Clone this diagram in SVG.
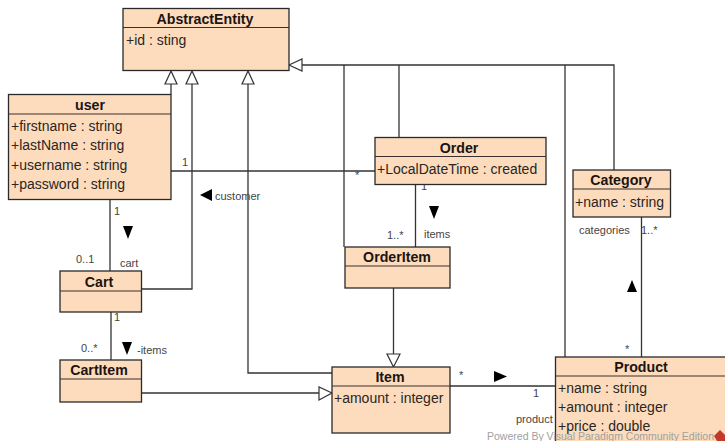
<svg xmlns="http://www.w3.org/2000/svg" width="725" height="441" viewBox="0 0 725 441">
<defs>
<style>
text{font-family:"Liberation Sans",Arial,sans-serif;fill:#222}
.box{fill:#fddcbd;stroke:#2a2a2a;stroke-width:1.3}
.div{stroke:#3a3030;stroke-width:1.1;fill:none}
.t{font-size:14.2px;font-weight:bold;text-anchor:middle;fill:#1c1410}
.a{font-size:14px;fill:#2a2624}
.l{font-size:11px;fill:#444}
.c{fill:none;stroke:#333;stroke-width:1.3}
.g{fill:#fff;stroke:#333;stroke-width:1.2}
.d{fill:#000;stroke:none}
.w{font-size:11px;fill:#a0a0a0}
</style>
</defs>
<rect width="725" height="441" fill="#fff"/>
<g id="connectors">
<path class="c" d="M171 84V94"/>
<path class="c" d="M192 84V289H142"/>
<path class="c" d="M248 84V373H332"/>
<path class="c" d="M302 65H614V170"/>
<path class="c" d="M344 65V247"/>
<path class="c" d="M399 65V137"/>
<path class="c" d="M565 65V357"/>
<path class="c" d="M171 171H375"/>
<path class="c" d="M110 199V271"/>
<path class="c" d="M111 312V360"/>
<path class="c" d="M142 393H319"/>
<path class="c" d="M415.500 184V247"/>
<path class="c" d="M393.500 288V354"/>
<path class="c" d="M450 386H555"/>
<path class="c" d="M641.500 217V357"/>
<path class="g" d="M171 71L165 84H177Z"/>
<path class="g" d="M192 71L186 84H198Z"/>
<path class="g" d="M248 71L242 84H254Z"/>
<path class="g" d="M289 65L302 59V71Z"/>
<path class="g" d="M332 393L319 387V400Z"/>
<path class="g" d="M393.500 367L387 354H400Z"/>
<path class="d" d="M200 195L212 189V201Z"/>
<path class="d" d="M123 226H133L128 239Z"/>
<path class="d" d="M122 342H132L127 355Z"/>
<path class="d" d="M429 206H439L434 219Z"/>
<path class="d" d="M494 371L507 376.500L494 382Z"/>
<path class="d" d="M632 280L637 292H627Z"/>
<text class="l" x="182" y="166">1</text>
<text class="l" x="355" y="179">*</text>
<text class="l" x="215" y="200">customer</text>
<text class="l" x="114" y="215">1</text>
<text class="l" x="76" y="263">0..1</text>
<text class="l" x="120" y="267">cart</text>
<text class="l" x="114" y="321">1</text>
<text class="l" x="81" y="352">0..*</text>
<text class="l" x="137" y="354">-items</text>
<text class="l" x="421" y="190">1</text>
<text class="l" x="387" y="239">1..*</text>
<text class="l" x="424" y="238">items</text>
<text class="l" x="579" y="234">categories</text>
<text class="l" x="641" y="234">1..*</text>
<text class="l" x="625" y="353">*</text>
<text class="l" x="459" y="379">*</text>
<text class="l" x="533" y="397">1</text>
<text class="l" x="516" y="423">product</text>
</g>
<g id="AbstractEntity">
<rect class="box" x="123" y="8.500" width="166" height="62"/>
<path class="div" d="M123 27.500H289"/>
<text class="t" x="205" y="24">AbstractEntity</text>
<text class="a" x="126" y="45">+id : sting</text>
</g>
<g id="user">
<rect class="box" x="8.500" y="94.500" width="162.500" height="105"/>
<path class="div" d="M8.500 114H171"/>
<text class="t" x="90" y="110">user</text>
<text class="a" x="11" y="131">+firstname : string</text>
<text class="a" x="11" y="150">+lastName : string</text>
<text class="a" x="11" y="170">+username : string</text>
<text class="a" x="11" y="189">+password : string</text>
</g>
<g id="Order">
<rect class="box" x="375" y="137.500" width="171" height="47"/>
<path class="div" d="M375 156.500H546"/>
<text class="t" x="459" y="153">Order</text>
<text class="a" x="377" y="174">+LocalDateTime : created</text>
</g>
<g id="Category">
<rect class="box" x="573" y="170" width="97.500" height="47"/>
<path class="div" d="M573 189H670.500"/>
<text class="t" x="621" y="185">Category</text>
<text class="a" x="575" y="207">+name : string</text>
</g>
<g id="OrderItem">
<rect class="box" x="345" y="247" width="105" height="41"/>
<path class="div" d="M345 266H450"/>
<text class="t" x="397" y="262">OrderItem</text>
</g>
<g id="Cart">
<rect class="box" x="60" y="271" width="81.500" height="41"/>
<path class="div" d="M60 291H141.500"/>
<text class="t" x="99" y="287">Cart</text>
</g>
<g id="CartItem">
<rect class="box" x="60" y="360" width="81.500" height="42"/>
<path class="div" d="M60 379H141.500"/>
<text class="t" x="99" y="375">CartItem</text>
</g>
<g id="Item">
<rect class="box" x="332" y="367" width="118" height="66"/>
<path class="div" d="M332 386H450"/>
<text class="t" x="390" y="382">Item</text>
<text class="a" x="334" y="403">+amount : integer</text>
</g>
<g id="Product">
<rect class="box" x="555.500" y="357" width="172" height="90"/>
<path class="div" d="M555.500 376H727"/>
<text class="t" x="641" y="372">Product</text>
<text class="a" x="558" y="393">+name : string</text>
<text class="a" x="558" y="412">+amount : integer</text>
<text class="a" x="558" y="431">+price : double</text>
</g>
<text class="w" x="487" y="440" textLength="227" lengthAdjust="spacingAndGlyphs">Powered By Visual Paradigm Community Edition</text>
<path d="M720 430L725 435V441H717L714 436Z" fill="#c0392b"/>
</svg>
